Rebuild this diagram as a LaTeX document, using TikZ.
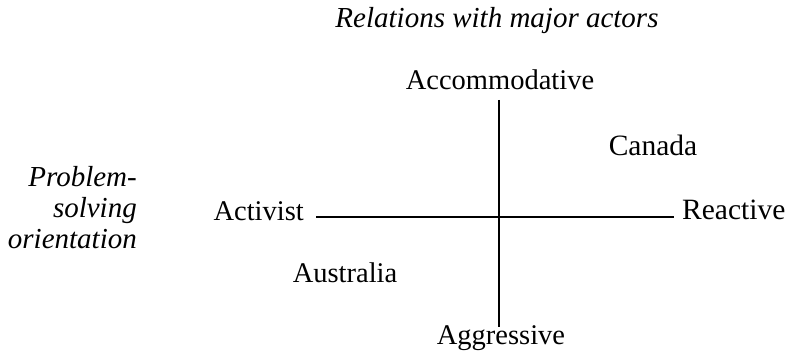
\documentclass[tikz,border=0pt]{standalone}
\usepackage{fontspec}
\setmainfont{Liberation Serif}
\begin{document}
\begin{tikzpicture}[x=1pt,y=1pt,
  lab/.style={inner sep=0pt,font=\fontsize{28.5}{32}\selectfont},
  ital/.style={inner sep=0pt,font=\fontsize{29}{32}\selectfont\itshape},
  axis/.style={line width=2.4pt}]
\useasboundingbox (0,0) rectangle (790,353);
\node[ital,anchor=base] (title) at (497,353-28) {Relations with major actors};
\node[lab,anchor=base] (acc) at (500,353-90) {Accommodative};
\node[lab,anchor=base] (agg) at (501,353-345) {Aggressive};
\node[lab,anchor=base east] (act) at (304,353-221) {Activist};
\node[lab,anchor=base west,font=\fontsize{29.5}{32}\selectfont] (rea) at (682,353-220) {Reactive};
\node[lab,anchor=base,font=\fontsize{29.5}{32}\selectfont] (can) at (653,353-156) {Canada};
\node[lab,anchor=base] (aus) at (345,353-283) {Australia};
\node[ital,anchor=base east] (p1) at (137,353-187) {Problem-};
\node[ital,anchor=base east] (p2) at (137,353-218) {solving};
\node[ital,anchor=base east] (p3) at (137,353-249) {orientation};
\coordinate (vt) at (499,353-100);
\coordinate (vb) at (499,353-327);
\coordinate (hl) at (316,353-217);
\coordinate (hr) at (674,353-217);
\draw[axis] (vt) -- (vb);
\draw[axis] (hl) -- (hr);
\end{tikzpicture}
\end{document}
